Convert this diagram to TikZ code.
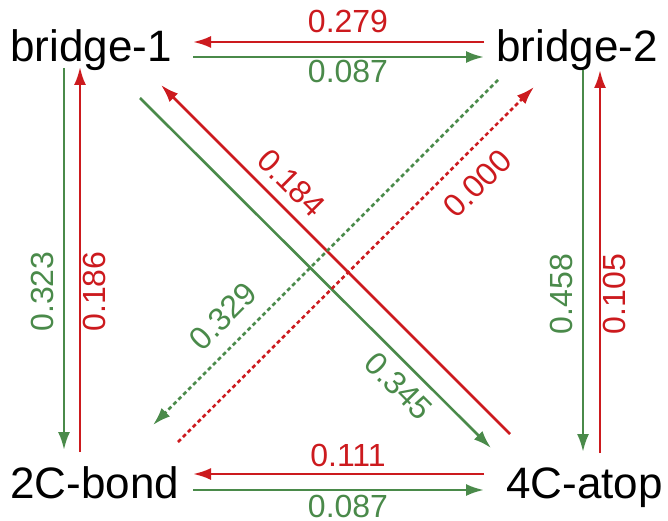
\documentclass[tikz,border=0pt]{standalone}
\usepackage{fontspec}
\setmainfont{Liberation Sans}
\usetikzlibrary{arrows.meta}
\definecolor{hopred}{RGB}{204,26,30}
\definecolor{hopgreen}{RGB}{74,138,74}

\begin{document}
\begin{tikzpicture}[x=1pt, y=1pt,
  site/.style={inner sep=0pt, anchor=base west, font=\fontsize{44}{44}\selectfont},
  rate/.style={inner sep=0pt, font=\fontsize{32}{32}\selectfont},
  hop/.style={line width=2.6pt, -{Latex[length=18pt, width=12pt]}},
  maybe/.style={hop, dash pattern=on 4pt off 3pt}]
  \useasboundingbox (0,0) rectangle (668,520);

  % adsorption sites
  \node[site] (b1) at (10,458) {bridge-1};
  \node[site] (b2) at (496,458) {bridge-2};
  \node[site] (c2) at (10,22) {2C-bond};
  \node[site] (c4) at (506,22) {4C-atop};

  % horizontal hops
  \draw[hop, hopred] ([shift={(-12,20)}]b2.base west) -- ([shift={(183,20)}]b1.base west);
  \draw[hop, hopgreen] ([shift={(183,5)}]b1.base west) -- ([shift={(-12,5)}]b2.base west);
  \draw[hop, hopred] ([shift={(-22,24)}]c4.base west) -- ([shift={(183,24)}]c2.base west);
  \draw[hop, hopgreen] ([shift={(183,8)}]c2.base west) -- ([shift={(-22,8)}]c4.base west);

  % vertical hops
  \draw[hop, hopgreen] ([shift={(54,-6)}]b1.base west) -- ([shift={(54,48)}]c2.base west);
  \draw[hop, hopred] ([shift={(70,46)}]c2.base west) -- ([shift={(70,-5)}]b1.base west);
  \draw[hop, hopgreen] ([shift={(87,-8)}]b2.base west) -- ([shift={(77,46)}]c4.base west);
  \draw[hop, hopred] ([shift={(94,45)}]c4.base west) -- ([shift={(104,-8)}]b2.base west);

  % diagonal hops
  \draw[hop, hopgreen] ([shift={(130,-36)}]b1.base west) -- ([shift={(-15,50)}]c4.base west);
  \draw[hop, hopred] ([shift={(4,64)}]c4.base west) -- ([shift={(151,-23)}]b1.base west);
  \draw[maybe, hopgreen] ([shift={(2,-18)}]b2.base west) -- ([shift={(143,73)}]c2.base west);
  \draw[maybe, hopred] ([shift={(168,56)}]c2.base west) -- ([shift={(38,-25)}]b2.base west);

  % rates
  \foreach \n/\v/\x/\y/\r/\c in {
      a/0.279/348/498.5/0/hopred, b/0.087/348/448.5/0/hopgreen,
      c/0.111/348/65/0/hopred, d/0.087/348/13.5/0/hopgreen,
      e/0.323/42/228.5/90/hopgreen, f/0.186/94.5/228.5/90/hopred,
      g/0.458/561.5/226/90/hopgreen, h/0.105/614.5/226/90/hopred,
      i/0.345/399/134/-45/hopgreen, j/0.184/291.5/337/-45/hopred,
      k/0.329/223/204/45/hopgreen, l/0.000/477.5/336.5/45/hopred} {
    \node[rate, text=\c, rotate=\r] (r\n) at (\x,\y) {\v};
  }
\end{tikzpicture}
\end{document}
